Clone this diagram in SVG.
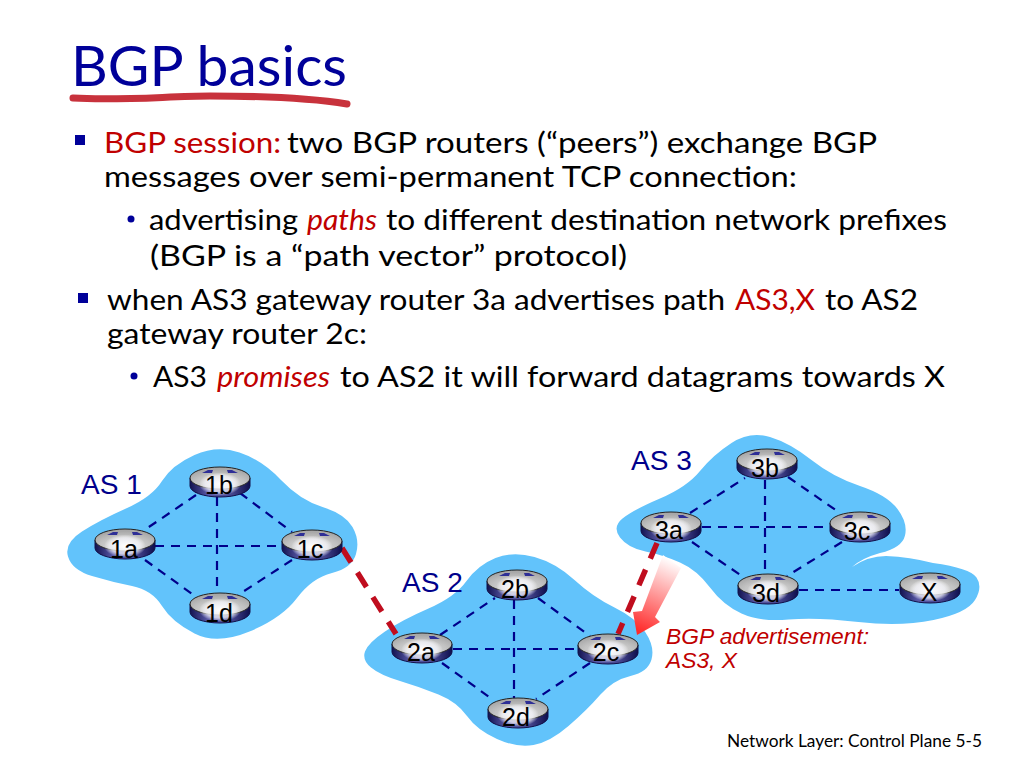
<svg xmlns="http://www.w3.org/2000/svg" width="1024" height="768" viewBox="0 0 1024 768">
<style>
.t{font-family:"Lato","Open Sans",sans-serif;font-size:29px;fill:#000}
.r{fill:#c00000}
.i{font-style:italic}
.h{font-family:"Lato","Open Sans",sans-serif;font-size:57px;fill:#000099}
.as{font-family:"Liberation Sans",Arial,sans-serif;font-size:28px;fill:#00008b}
.n{font-family:"Liberation Sans",Arial,sans-serif;font-size:25px;fill:#000;text-anchor:middle}
.adv{font-family:"Liberation Sans",Arial,sans-serif;font-size:22.8px;font-style:italic;fill:#c00000}
.f{font-family:"Lato","Open Sans",sans-serif;font-size:17px;fill:#000}
.blob{fill:#62c3fb}
.l{stroke:#00008b;stroke-width:2.2;stroke-dasharray:9 7;fill:none}
.e{stroke:#c00d1e;stroke-width:5.5;stroke-dasharray:17 12;fill:none}
.b{fill:#000099}
</style>
<defs>
<linearGradient id="body" x1="0" x2="1" y1="0" y2="0"><stop offset="0" stop-color="#12124f"/><stop offset=".3" stop-color="#5a5aa8"/><stop offset=".7" stop-color="#46468f"/><stop offset="1" stop-color="#0e0e4c"/></linearGradient>
<radialGradient id="top" cx=".5" cy=".75" r=".65"><stop offset="0" stop-color="#e0e0e0"/><stop offset=".6" stop-color="#c4c4c4"/><stop offset="1" stop-color="#a8a8a8"/></radialGradient>
<radialGradient id="glow"><stop offset="0" stop-color="#fff" stop-opacity=".95"/><stop offset=".7" stop-color="#f4f4fa" stop-opacity=".75"/><stop offset="1" stop-color="#fff" stop-opacity="0"/></radialGradient>
<linearGradient id="adv" gradientUnits="userSpaceOnUse" x1="672" y1="560" x2="640" y2="632"><stop offset="0" stop-color="#fff"/><stop offset="1" stop-color="#ff2a2a"/></linearGradient>
<g id="router">
<path d="M-30,11 V19 A30,11 0 0 0 30,19 V11 Z" fill="url(#body)" stroke="#10104a" stroke-width="1"/>
<ellipse cy="11" rx="30" ry="11" fill="url(#top)" stroke="#222" stroke-width="1"/>
<ellipse cy="17" rx="21" ry="11.5" fill="url(#glow)"/>
<path d="M-18,6 l6,-3 h5 l-1,3 l1,0 h-5 Z M18,6 l-6,-3 h-5 l1,3 l-1,0 h5 Z" fill="#2e2e96"/>
</g>
</defs>
<rect width="1024" height="768" fill="#fff"/>
<g id="title">
<text class="h" x="71" y="86" textLength="276" lengthAdjust="spacingAndGlyphs">BGP basics</text>
<path d="M73,98 C120,101 170,96 210,96 C260,96 310,98 347,104" fill="none" stroke="#c8323c" stroke-width="7" stroke-linecap="round"/>
</g>
<g id="body-text">
<rect class="b" x="75" y="135" width="10" height="10"/>
<text class="t r" x="104" y="153" textLength="177" lengthAdjust="spacingAndGlyphs">BGP session:</text>
<text class="t" x="287" y="153" textLength="590" lengthAdjust="spacingAndGlyphs">two BGP routers (“peers”) exchange BGP</text>
<text class="t" x="104" y="187" textLength="693" lengthAdjust="spacingAndGlyphs">messages over semi-permanent TCP connection:</text>
<circle class="b" cx="131" cy="219" r="3.5"/>
<text class="t" x="149" y="230" textLength="149" lengthAdjust="spacingAndGlyphs">advertising</text>
<text class="t r i" x="307" y="230" textLength="70" lengthAdjust="spacingAndGlyphs">paths</text>
<text class="t" x="386" y="230" textLength="561" lengthAdjust="spacingAndGlyphs">to different destination network prefixes</text>
<text class="t" x="150" y="266" textLength="477" lengthAdjust="spacingAndGlyphs">(BGP  is a “path vector” protocol)</text>
<rect class="b" x="78" y="293" width="10" height="10"/>
<text class="t" x="107" y="310" textLength="618" lengthAdjust="spacingAndGlyphs">when AS3 gateway router 3a advertises path</text>
<text class="t r" x="735" y="310" textLength="80" lengthAdjust="spacingAndGlyphs">AS3,X</text>
<text class="t" x="825" y="310" textLength="93" lengthAdjust="spacingAndGlyphs">to AS2</text>
<text class="t" x="107" y="344" textLength="260" lengthAdjust="spacingAndGlyphs">gateway router 2c:</text>
<circle class="b" cx="134" cy="376" r="3.5"/>
<text class="t" x="153" y="387" textLength="54" lengthAdjust="spacingAndGlyphs">AS3</text>
<text class="t r i" x="217" y="387" textLength="113" lengthAdjust="spacingAndGlyphs">promises</text>
<text class="t" x="340" y="387" textLength="605" lengthAdjust="spacingAndGlyphs">to AS2 it will forward datagrams towards X</text>
</g>
<g id="as-clouds">
<path id="as1" class="blob" d="M68,556.5 Q64,543 82,531.5 Q100,520 126,508.5 Q152,497 162,481 Q172,465 194.5,455 Q217,445 239.5,452.5 Q262,460 281,480 Q300,500 322.5,507 Q345,514 352.5,527 Q360,540 356,554 Q352,568 332,573 Q312,578 297,598 Q282,618 249.5,631.5 Q217,645 194.5,633.5 Q172,622 162,606 Q152,590 132,586 Q112,582 92,576 Q72,570 68,556.5Z"/>
<path id="as2" class="blob" d="M495.5,558 Q513,551 534.5,557 Q556,563 574.5,580 Q593,597 614.5,607.5 Q636,618 645.5,632.5 Q655,647 651.5,659.5 Q648,672 630.5,676 Q613,680 600,695 Q587,710 568.5,726 Q550,742 533.5,745 Q517,748 497,739 Q477,730 467,716 Q457,702 438.5,694.5 Q420,687 400,681 Q380,675 371,667.5 Q362,660 365,651.5 Q368,643 385,631.5 Q402,620 428.5,608.5 Q455,597 466.5,581 Q478,565 495.5,558Z"/>
<path id="as3" class="blob" d="M622.5,518.5 Q633,510 660,498.5 Q687,487 700,471 Q713,455 731.5,443 Q750,431 770,437 Q790,443 811.5,460 Q833,477 860,486 Q887,495 897.5,509 Q908,523 905,535.5 Q902,548 880,553 Q862,558 852,567 Q868,556 886,556 Q910,557 933,563 Q970,568 976.5,577.5 Q983,587 975,600 Q967,613 933.5,620 Q900,627 858.5,622 Q817,617 788.5,619.5 Q760,622 741.5,613.5 Q723,605 710,587.5 Q697,570 680,562.5 Q663,555 645.5,551.5 Q628,548 620,537.5 Q612,527 622.5,518.5Z"/>
</g>
<g id="connectors">
<path class="l" d="M196,495 L143,531"/>
<path class="l" d="M240,493 L292,532"/>
<path class="l" d="M145,560 L195,596"/>
<path class="l" d="M292,560 L238,595"/>
<path class="l" d="M155,546 H282"/>
<path class="l" d="M217,497 V593"/>
<path class="l" d="M440,635 L495,598"/>
<path class="l" d="M538,598 L590,636"/>
<path class="l" d="M442,663 L492,699"/>
<path class="l" d="M590,663 L536,699"/>
<path class="l" d="M453,649 H578"/>
<path class="l" d="M514,600 V698"/>
<path class="l" d="M690,513 L745,478"/>
<path class="l" d="M788,477 L840,513"/>
<path class="l" d="M692,542 L742,576"/>
<path class="l" d="M842,542 L787,576"/>
<path class="l" d="M702,527 H829"/>
<path class="l" d="M765,480 V574"/>
<path class="l" d="M799,590 H899"/>
<path class="e" d="M342,548 L396,634"/>
<path class="e" d="M657,543 L618,634"/>
</g>
<polygon id="advert-arrow" points="663,555 681,568 655,617 660,622 637,635 633,612 642,611" fill="url(#adv)"/>
<g id="labels">
<text class="as" x="81" y="494">AS 1</text>
<text class="as" x="402" y="592">AS 2</text>
<text class="as" x="631" y="470">AS 3</text>
<text class="adv" x="666" y="644">BGP advertisement:</text>
<text class="adv" x="666" y="668">AS3, X</text>
</g>
<g id="r1a"><use href="#router" x="125" y="529"/><text class="n" x="124" y="558">1a</text></g>
<g id="r1b"><use href="#router" x="220" y="467"/><text class="n" x="219" y="494">1b</text></g>
<g id="r1c"><use href="#router" x="312" y="530"/><text class="n" x="310" y="558">1c</text></g>
<g id="r1d"><use href="#router" x="220" y="593"/><text class="n" x="219" y="622">1d</text></g>
<g id="r2a"><use href="#router" x="422" y="633"/><text class="n" x="421" y="661">2a</text></g>
<g id="r2b"><use href="#router" x="517" y="570"/><text class="n" x="515" y="598">2b</text></g>
<g id="r2c"><use href="#router" x="608" y="634"/><text class="n" x="606" y="661">2c</text></g>
<g id="r2d"><use href="#router" x="518" y="698"/><text class="n" x="516" y="726">2d</text></g>
<g id="r3a"><use href="#router" x="671" y="512"/><text class="n" x="669" y="539">3a</text></g>
<g id="r3b"><use href="#router" x="767" y="449"/><text class="n" x="765" y="477">3b</text></g>
<g id="r3c"><use href="#router" x="860" y="512"/><text class="n" x="857" y="540">3c</text></g>
<g id="r3d"><use href="#router" x="768" y="574"/><text class="n" x="766" y="602">3d</text></g>
<g id="rX"><use href="#router" x="930" y="573"/><text class="n" x="929" y="601">X</text></g>
<text id="footer" class="f" x="727" y="747" textLength="255" lengthAdjust="spacingAndGlyphs">Network Layer: Control Plane  5-5</text>
</svg>
